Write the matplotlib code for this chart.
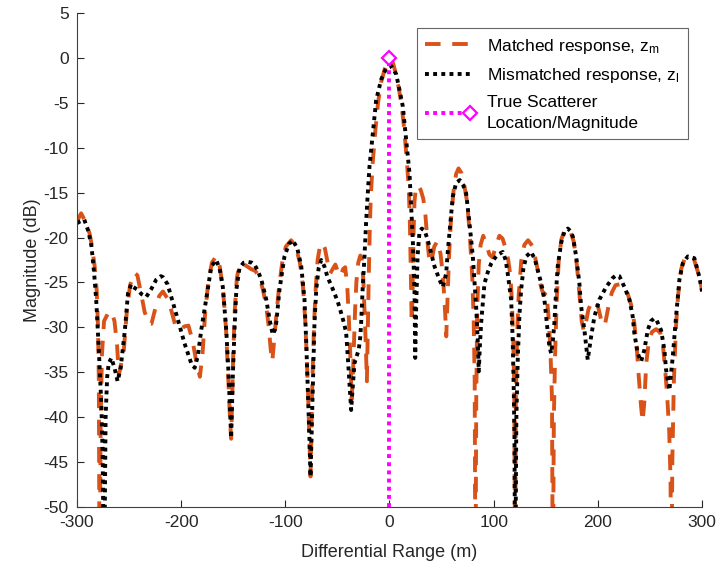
import matplotlib
matplotlib.use("Agg")
import matplotlib.pyplot as plt
from matplotlib.legend_handler import HandlerLine2D

plt.rcParams['font.family'] = ['Liberation Sans', 'DejaVu Sans']
plt.rcParams['mathtext.fontset'] = 'custom'
plt.rcParams['mathtext.rm'] = 'Liberation Sans'
plt.rcParams['mathtext.it'] = 'Liberation Sans'
plt.rcParams['axes.unicode_minus'] = False

# ---------------- data ----------------
matched_x = [-300, -296, -292, -288, -285.5, -283, -281, -279.8, -279, -278.3, -277.2, -276, -274,
             -270.5, -267, -264, -261.5, -259.8, -257.5, -255, -252, -249, -245, -242, -238.5, -235,
             -231, -228.5, -225, -221, -217.5, -213, -209, -206, -201, -197, -193, -189, -185.5,
             -182, -179.5, -177, -174, -170.5, -166.5, -163, -160, -157, -155, -153, -152, -151,
             -150, -148.5, -146.5, -144, -142, -138, -133, -129, -125, -121.5, -118.5, -116, -114,
             -112.5, -110.8, -108.5, -106, -103, -99.5, -94.4, -90, -86, -83, -81, -79.5, -78,
             -76.5, -75.8, -75, -74, -72.5, -71, -69, -66.5, -64.5, -62, -59.5, -57, -54.5, -52,
             -49.5, -47, -44.5, -42.5, -40.5, -39, -37.5, -36.3, -35, -34, -33, -31.8, -30, -28,
             -26.5, -25, -23.8, -22.7, -21.7, -20.8, -20, -19, -18, -16, -13.5, -11, -8, -4.5, -1,
             1, 3.5, 6, 9, 11.5, 13.6, 15.5, 17, 18.5, 19.5, 20.5, 21.3, 22.2, 23, 24, 25.5, 27.5,
             30, 32.5, 34.5, 36.5, 38.5, 40.5, 43, 46, 49, 51.5, 53.5, 54.5, 55.5, 57, 59, 61.5,
             64, 66.3, 69, 72, 74.5, 77, 79.5, 80.8, 81.8, 82.5, 83.3, 84.2, 85.7, 87.5, 90, 93,
             96, 99, 102, 105.5, 108.5, 111.5, 114, 116, 117.5, 118.8, 119.8, 120.6, 121.3, 122.5,
             124, 126.5, 129.5, 133, 137, 140, 143, 145.5, 148, 150.5, 152.5, 154.5, 156, 156.8,
             157.8, 159, 160.5, 162.5, 165, 168, 171, 174, 177, 180, 182.5, 184.5, 186.5, 188.5,
             191, 194, 197, 200, 202.5, 204.5, 207, 210, 213.5, 217, 221, 225, 228.5, 232, 235,
             237.5, 239.5, 241.5, 243, 244.5, 246.5, 249, 252, 256, 260, 262.5, 264.5, 266.5,
             268.5, 269.8, 270.6, 271.5, 273, 275, 277, 280, 283.5, 287, 292, 296, 300]
matched_db = [-18.2, -17.3, -18.2, -19.5, -21, -23.2, -26, -30, -36, -60, -40, -33, -29.3,
              -28.5, -28.2, -29.3, -32, -35.3, -34, -32.5, -28, -25.3, -23.9, -24.2, -26.2, -28.3,
              -29.6, -29.6, -28, -26.5, -26, -26.8, -28.3, -29.6, -30.3, -29.9, -29.8, -31.5, -33.8,
              -35.5, -33, -28.5, -25, -22.8, -22.1, -23.2, -25.5, -30, -35, -40.5, -42.4, -38,
              -33, -28, -24.5, -23, -22.9, -23.1, -23.5, -23.7, -24.3, -25.8, -27.5, -29.8, -32.5,
              -33.8, -31.5, -28.5, -25.5, -22.8, -21, -20.3, -21, -22.8, -25.5, -29, -33, -38,
              -44, -46.6, -42, -36, -30, -26, -22.5, -20.8, -20.6, -21.2, -22.7, -24, -23.5, -23,
              -23.8, -24.3, -23.5, -23.3, -25.5, -29, -33.5, -38, -35, -31.5, -28, -25, -22.8, -22,
              -22.5, -25, -28.5, -32, -36, -30, -25, -19.5, -15.5, -11.5, -8, -5, -2.7, -1.2, -0.2,
              0, -0.6, -1.7, -3.4, -5.2, -7.3, -9.8, -12, -14.5, -18, -24, -29.5, -26, -20, -16, -14.3, -14.2,
              -14.7, -15.7, -17.5, -20.5, -22.8, -22.5, -21, -20.4, -21.8, -24.5, -28.5, -31, -27.5, -22.5, -18, -14.8,
              -12.9, -12.3, -12.8, -14.3, -16, -19.5, -24.5, -29, -36, -60, -38, -28, -23, -20.8, -19.8, -20.8,
              -21.9, -22.2, -21, -19.8, -20.1, -21.2, -22.5, -24.2, -27, -31.5, -37, -60, -38, -31,
              -26.5, -22.6, -20.8, -20.3, -20.9, -22.3, -24, -25.5, -26.4, -26.1, -28.5, -32.5, -38, -60,
              -40, -33, -27, -22.5, -20.2, -19.2, -19, -19.4, -20.5, -23.2, -26.5, -29.3, -30.4, -29.5,
              -28, -27.2, -27, -27.6, -28.8, -29.8, -29.6, -27.8, -26.1, -25.3, -25.2, -25.5, -26.2, -27.5, -29.5,
              -32.5, -35.8, -38.8, -40.5, -38.5, -34, -31.5, -30.5, -30.2, -30.6, -32, -34.5, -37.5,
              -41.5, -47, -60, -45, -36, -30, -26.5, -23.5, -22.3, -22, -22.3, -23.8, -25.8]

mismatched_x = [-300, -297, -293, -289, -286, -283.5, -281.5, -279.5, -278, -276.5, -275.3, -274,
                -272.5, -271, -269.5, -267, -264, -261, -258, -254, -251, -248, -246, -242, -238,
                -233.5, -229, -224, -219.5, -217.5, -213, -209.5, -203, -196.7, -190.3, -187, -184,
                -180.7, -176, -171, -166.3, -163, -160, -156.7, -154.5, -152.6, -152, -150.4, -148.8,
                -147, -144, -140, -136, -132, -129.6, -126, -123, -118.3, -115, -112, -110.2, -108.7,
                -105.6, -100.8, -96.5, -92.8, -88.5, -84.7, -81.6, -80, -78.4, -76.8, -75.8, -74.5,
                -73.3, -72, -70.3, -68, -65.5, -62.5, -59.5, -56, -52.8, -49.5, -46.4, -43.5, -41.6,
                -40, -38.4, -36.8, -35.2, -33.6, -31.5, -29.5, -28, -27.2, -25.8, -24, -22.4, -20.8,
                -19.2, -16, -12.8, -8, -3.2, 1.6, 6.4, 9.5, 12.8, 16, 19.2, 20.8, 22.4, 24, 24.7,
                25.8, 27, 28.8, 31, 33.6, 36, 38.4, 43.2, 48, 51.2, 54.4, 56, 57.6, 60.8, 64, 67.5,
                70.5, 73.6, 76.8, 80, 83.2, 84.7, 85.7, 86.8, 88, 91.2, 94.5, 97.6, 101, 104, 108.8,
                111.5, 113.5, 116.8, 118.3, 119.3, 120, 120.6, 121.8, 123.2, 124.8, 126.4, 128.5,
                131.2, 136, 139.5, 142.3, 145, 147, 148.8, 150.4, 152, 153.5, 155.2, 156.8, 158.3,
                160, 161.5, 164.8, 168, 171.2, 174, 176, 179.2, 182.3, 184, 187.1, 190.3, 193.6,
                196.7, 201.5, 208, 214.3, 217.5, 220.7, 225.5, 230.3, 233.5, 235.1, 238.3, 241.5,
                244.7, 247.9, 251, 254, 256, 260.7, 263.9, 265.5, 268.7, 271.9, 275.1, 278.3, 281.5,
                286.3, 292.7, 297.5, 300]
mismatched_db = [-18.4, -18.2, -18, -19.3, -21, -24, -27, -31.4, -35, -38.9, -44.4, -60,
                 -40, -35.5, -34, -33.4, -34.5, -36, -34.5, -30.3, -26.2, -25.2, -25.5, -25.8, -26.3,
                 -26.6, -25.8, -24.7, -24.3, -24.4, -25.2, -26.6, -29.2, -31.8, -34, -34.5, -33.2,
                 -30.3, -26.9, -23.2, -22.5, -23.5, -25.5, -30.3, -35.1, -40.6, -42.3, -35.5, -30.3,
                 -25.8, -23.4, -22.8, -22.7, -22.8, -23, -23.8, -24.7, -26.9, -29.2, -30.8, -30.3, -29.5,
                 -25.8, -22.1, -20.7, -20.3, -21.2, -23.2, -26.9, -31.4, -37, -42.5, -46.6, -40.7,
                 -35, -29.5, -25.8, -23.4, -22.5, -23.2, -24.4, -25.3, -26.2, -27.2, -28.4, -29.6, -30.6,
                 -33.3, -36.2, -39.2, -36.5, -34, -33.2, -32.5, -31, -29.5, -25.8, -22.1, -18.2, -15,
                 -12.1, -8.4, -4.7, -2.4, -1.15, -0.9, -1.8, -3.5, -5.4, -9.1, -12.8, -16.6, -20.3, -25.8, -33.4,
                 -27, -22, -19.4, -19, -19.2, -20, -21, -23.2, -24.7, -25.5, -24, -21.5, -19.5, -15.4, -13.9, -13.6,
                 -14.1, -15.1, -18.4, -22.1, -27.7, -31.4, -34.9, -32, -29.5, -25.1, -23.8, -22.9, -22.3, -21.9, -21.6,
                 -22.5, -24, -26.9, -31.4, -37, -42.5, -60, -40, -33.3, -28.5, -25.8, -23.5,
                 -22.1, -21.6, -22.4, -23.6, -24.8, -25.8, -27, -28.8, -30.6, -32.1, -32.9, -31.5, -29.5,
                 -25.8, -23.2, -20.6, -19.3, -19, -19.3, -19.9, -22.1, -25.1, -27.7, -30.3, -33.6, -31,
                 -28.8, -26.9, -25.5, -24.5, -24.2, -24.3, -25.5, -26.9, -28.8, -30.7, -32.9, -33.8,
                 -32.5, -30.3, -29.3, -29, -29.1, -30.3, -32.5, -34.7, -37, -33.3, -28.8, -24.7, -22.9,
                 -22.1, -22.3, -24.4, -26]

true_x = [0, 0]
true_db = [-50, 0]

x_ticks = [-300, -200, -100, 0, 100, 200, 300]
y_ticks = [5, 0, -5, -10, -15, -20, -25, -30, -35, -40, -45, -50]

labels = ['Matched response, z$_\\mathrm{m}$',
          'Mismatched response, z$_\\mathrm{l}$',
          'True Scatterer\nLocation/Magnitude']


class EndMarkerHandler(HandlerLine2D):
    """Legend entry: line with the marker drawn only at its right end."""
    def create_artists(self, legend, orig_handle, xdescent, ydescent,
                       width, height, fontsize, trans):
        arts = super().create_artists(legend, orig_handle, xdescent, ydescent,
                                      width, height, fontsize, trans)
        for a in arts:
            n = len(a.get_xdata())
            a.set_markevery([n - 1])
        return arts


# ---------------- plot ----------------
orange = '#D95319'
fig = plt.figure(figsize=(7.22, 5.73), dpi=100)
ax = fig.add_axes([0.1066, 0.1152, 0.8657, 0.862])

l1, = ax.plot(matched_x, matched_db, color=orange, lw=2.8, linestyle=(0, (4, 3)), label=labels[0])
l2, = ax.plot(mismatched_x, mismatched_db, color='black', lw=2.8, linestyle=(0, (1, 1.1)), label=labels[1])
l3, = ax.plot(true_x, true_db, color='#FF00FF', lw=2.8, linestyle=(0, (1, 1.1)),
              marker='D', markevery=[1], markersize=7, markerfacecolor='white',
              markeredgecolor='#FF00FF', markeredgewidth=1.6, label=labels[2])

ax.set_xlim(-300, 300)
ax.set_ylim(-50, 5)
ax.set_xticks(x_ticks)
ax.set_yticks(y_ticks)
ax.tick_params(direction='in', length=5, width=0.8, colors='#262626', labelsize=12.5, pad=6)
for s in ['top', 'right']:
    ax.spines[s].set_visible(False)
for s in ['left', 'bottom']:
    ax.spines[s].set_color('#404040')
    ax.spines[s].set_linewidth(0.8)

ax.set_xlabel('Differential Range (m)', fontsize=13, color='#262626', labelpad=10)
ax.set_ylabel('Magnitude (dB)', fontsize=13, color='#262626', labelpad=2)

leg = ax.legend(handles=[l1, l2, l3], loc='upper right', bbox_to_anchor=(0.9776, 0.97),
                borderaxespad=0, fontsize=12.5, frameon=True, fancybox=False,
                edgecolor='#404040', handlelength=2.6, labelspacing=0.6, borderpad=0.5,
                handletextpad=0.95, handler_map={l3: EndMarkerHandler()})
leg.get_frame().set_linewidth(0.8)
leg.get_texts()[2].set_linespacing(1.45)

fig.savefig('out.png', dpi=100)
